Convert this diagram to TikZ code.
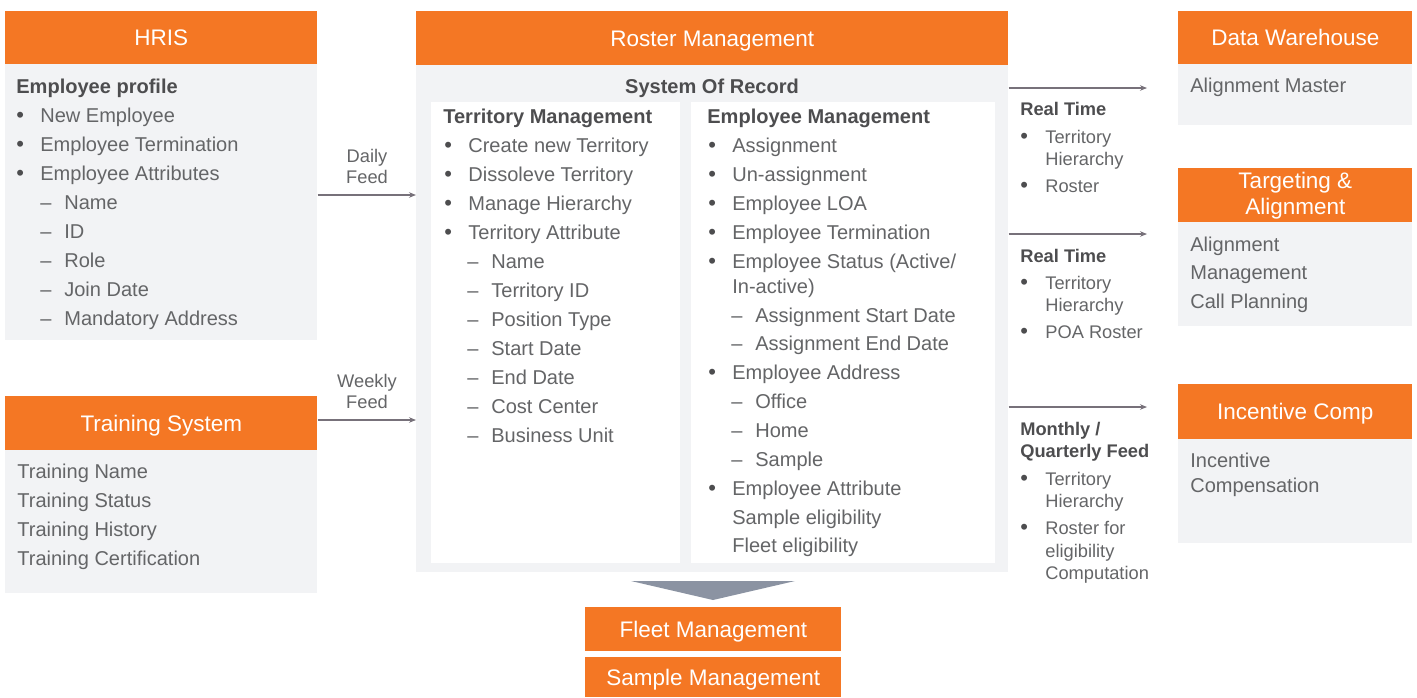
\documentclass[tikz,border=0pt]{standalone}
\usepackage{fontspec}
\setmainfont{Liberation Sans}
\usepackage{xcolor}
\usepackage{tikz}
\usetikzlibrary{arrows.meta}

\definecolor{accent}{HTML}{F47724}
\definecolor{panel}{HTML}{F2F3F5}
\definecolor{ink}{HTML}{646567}
\definecolor{inkdark}{HTML}{4D4D4F}
\definecolor{wedge}{HTML}{8B93A2}
\definecolor{feedline}{HTML}{77717A}

\newcommand{\headfont}{\fontsize{12.8}{14.8}\selectfont}
\newcommand{\bodyfont}{\fontsize{11.4}{14}\selectfont}
\newcommand{\notefont}{\fontsize{10.4}{12.5}\selectfont}
\newcommand{\bulletmark}{\textcolor{inkdark}{\fontsize{12.5}{12.5}\selectfont\textbullet}}

\tikzset{
  wh/.style 2 args={minimum width=#1*0.02cm, minimum height=#2*0.02cm},
  head/.style={fill=accent, text=white, font=\headfont, inner sep=0pt, align=center,
               anchor=north west, text height=9.2pt, text depth=0pt},
  panel/.style={fill=panel, inner sep=0pt, anchor=north west},
  sheet/.style={fill=white, inner sep=0pt, anchor=north west},
  txt/.style={anchor=base west, inner sep=0pt, text=ink, font=\bodyfont},
  ttl/.style={txt, text=inkdark, font=\bodyfont\bfseries},
  bul/.style={txt, execute at begin node={\makebox[0.48cm][l]{\bulletmark}}},
  sub/.style={txt, execute at begin node={\makebox[0.48cm][l]{--}}},
  note/.style={txt, font=\notefont},
  notettl/.style={ttl, font=\notefont\bfseries},
  notebul/.style={note, execute at begin node={\makebox[0.5cm][l]{\bulletmark}}},
  feed/.style={draw=feedline, line width=0.6pt, -{Stealth[length=0.14cm,width=0.11cm]}},
}

\begin{document}
\begin{tikzpicture}[x=0.02cm, y=-0.02cm]
    \useasboundingbox (0,0) rectangle (1417,697);

    % source systems
    \node[head, wh={312}{53}] (hris) at (5,11) {HRIS};
    \node[panel, wh={312}{276}] (hrisbody) at (5,64) {};
    \node[head, wh={312}{54}] (train) at (5,396) {Training System};
    \node[panel, wh={312}{143}] (trainbody) at (5,450) {};

    \node[ttl] (hris0) at (16,93) {Employee profile};
    \node[bul] (hris1) at (16,122) {New Employee};
    \node[bul] (hris2) at (16,151) {Employee Termination};
    \node[bul] (hris3) at (16,180) {Employee Attributes};
    \node[sub] (hris4) at (40,209) {Name};
    \node[sub] (hris5) at (40,238) {ID};
    \node[sub] (hris6) at (40,267) {Role};
    \node[sub] (hris7) at (40,296) {Join Date};
    \node[sub] (hris8) at (40,325) {Mandatory Address};

    \node[txt] (train1) at (17,478) {Training Name};
    \node[txt] (train2) at (17,507) {Training Status};
    \node[txt] (train3) at (17,536) {Training History};
    \node[txt] (train4) at (17,565) {Training Certification};

    % roster management
    \node[head, wh={592}{54}] (roster) at (416,11) {Roster Management};
    \node[panel, wh={592}{507}] (rosterbody) at (416,65) {};
    \node[ttl, anchor=base] (sor) at (712,93) {System Of Record};
    \node[sheet, wh={249}{461}] (terr) at (431,102) {};
    \node[sheet, wh={304}{461}] (emp) at (691,102) {};

    \node[ttl] (terr0) at (443,123) {Territory Management};
    \node[bul] (terr1) at (444,152) {Create new Territory};
    \node[bul] (terr2) at (444,181) {Dissoleve Territory};
    \node[bul] (terr3) at (444,210) {Manage Hierarchy};
    \node[bul] (terr4) at (444,239) {Territory Attribute};
    \node[sub] (terr5) at (467,268) {Name};
    \node[sub] (terr6) at (467,297) {Territory ID};
    \node[sub] (terr7) at (467,326) {Position Type};
    \node[sub] (terr8) at (467,355) {Start Date};
    \node[sub] (terr9) at (467,384) {End Date};
    \node[sub] (terr10) at (467,413) {Cost Center};
    \node[sub] (terr11) at (467,442) {Business Unit};

    \node[ttl] (emp0) at (707,123) {Employee Management};
    \node[bul] (emp1) at (708,152) {Assignment};
    \node[bul] (emp2) at (708,181) {Un-assignment};
    \node[bul] (emp3) at (708,210) {Employee LOA};
    \node[bul] (emp4) at (708,239) {Employee Termination};
    \node[bul] (emp5) at (708,268) {Employee Status (Active/};
    \node[txt] (emp6) at (732,293) {In-active)};
    \node[sub] (emp7) at (731,322) {Assignment Start Date};
    \node[sub] (emp8) at (731,350) {Assignment End Date};
    \node[bul] (emp9) at (708,379) {Employee Address};
    \node[sub] (emp10) at (731,408) {Office};
    \node[sub] (emp11) at (731,437) {Home};
    \node[sub] (emp12) at (731,466) {Sample};
    \node[bul] (emp13) at (708,495) {Employee Attribute};
    \node[txt] (emp14) at (732,524) {Sample eligibility};
    \node[txt] (emp15) at (732,552) {Fleet eligibility};

    % downstream of the roster
    \fill[wedge] (631,581) -- (795,581) -- (713,600) -- cycle;
    \node[head, wh={256}{44}] (fleet) at (585,607) {Fleet Management};
    \node[head, wh={256}{40}] (sample) at (585,657) {Sample Management};

    % target systems
    \node[head, wh={234}{53}] (dw) at (1178,11) {Data Warehouse};
    \node[panel, wh={234}{61}] (dwbody) at (1178,64) {};
    \node[txt] (dw1) at (1190,92) {Alignment Master};

    \node[head, wh={234}{54}, text height={}, text depth={}] (tgt) at (1178,168) {Targeting \&\\Alignment};
    \node[panel, wh={234}{104}] (tgtbody) at (1178,222) {};
    \node[txt] (tgt1) at (1190,251) {Alignment};
    \node[txt] (tgt2) at (1190,279) {Management};
    \node[txt] (tgt3) at (1190,308) {Call Planning};

    \node[head, wh={234}{55}] (inc) at (1178,384) {Incentive Comp};
    \node[panel, wh={234}{104}] (incbody) at (1178,439) {};
    \node[txt] (inc1) at (1190,467) {Incentive};
    \node[txt] (inc2) at (1190,492) {Compensation};

    % feeds in
    \draw[feed] (hrisbody.east |- 0,195) -- (rosterbody.west |- 0,195);
    \node[note, anchor=base] (daily1) at (367,162) {Daily};
    \node[note, anchor=base] (daily2) at (367,183) {Feed};
    \draw[feed] (train.east |- 0,420) -- (rosterbody.west |- 0,420);
    \node[note, anchor=base] (weekly1) at (367,387) {Weekly};
    \node[note, anchor=base] (weekly2) at (367,408) {Feed};

    % feeds out
    \draw[feed, shorten >=0.62cm] (rosterbody.east |- 0,88) -- (dwbody.west |- 0,88);
    \node[notettl] (rt1) at (1020,115) {Real Time};
    \node[notebul] (rt2) at (1020,143) {Territory};
    \node[note] (rt3) at (1045,165) {Hierarchy};
    \node[notebul] (rt4) at (1020,192) {Roster};

    \draw[feed, shorten >=0.62cm] (rosterbody.east |- 0,234) -- (tgtbody.west |- 0,234);
    \node[notettl] (rtb1) at (1020,262) {Real Time};
    \node[notebul] (rtb2) at (1020,289) {Territory};
    \node[note] (rtb3) at (1045,311) {Hierarchy};
    \node[notebul] (rtb4) at (1020,338) {POA Roster};

    \draw[feed, shorten >=0.62cm] (rosterbody.east |- 0,407) -- (inc.west |- 0,407);
    \node[notettl] (mq1) at (1020,435) {Monthly /};
    \node[notettl] (mq2) at (1020,457) {Quarterly Feed};
    \node[notebul] (mq3) at (1020,485) {Territory};
    \node[note] (mq4) at (1045,507) {Hierarchy};
    \node[notebul] (mq5) at (1020,534) {Roster for};
    \node[note] (mq6) at (1045,557) {eligibility};
    \node[note] (mq7) at (1045,579) {Computation};
\end{tikzpicture}
\end{document}
